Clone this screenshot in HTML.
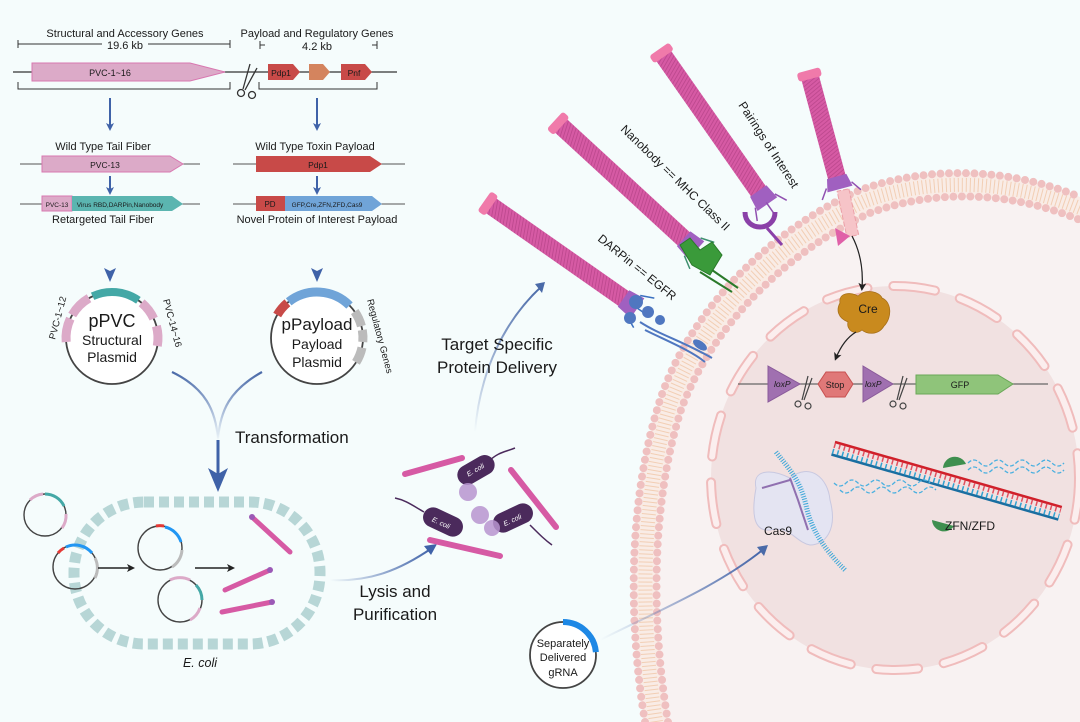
<!DOCTYPE html>
<html><head><meta charset="utf-8"><style>
html,body{margin:0;padding:0;background:#f5fcfc}
svg{display:block}
text{font-family:"Liberation Sans",sans-serif;fill:#1a1a1a}
</style></head><body>
<svg width="1080" height="722" viewBox="0 0 1080 722" xmlns="http://www.w3.org/2000/svg">
<defs>
<pattern id="stripe" width="3.5" height="18" patternUnits="userSpaceOnUse" patternTransform="skewX(25)">
<rect width="3.5" height="18" fill="#d65aa4"/><line x1="0.5" y1="0" x2="0.5" y2="18" stroke="#b8458a" stroke-width="0.8"/>
</pattern>
<linearGradient id="fadeDown" x1="0" y1="0" x2="0" y2="1"><stop offset="0" stop-color="#3f62a8" stop-opacity="0.35"/><stop offset="0.6" stop-color="#3f62a8"/></linearGradient>
<linearGradient id="fadeL" x1="0" y1="0" x2="1" y2="0"><stop offset="0" stop-color="#3f62a8" stop-opacity="0"/><stop offset="1" stop-color="#3f62a8"/></linearGradient>
<linearGradient id="fadeU" x1="0" y1="1" x2="0" y2="0"><stop offset="0" stop-color="#3f62a8" stop-opacity="0"/><stop offset="1" stop-color="#4a6aa8"/></linearGradient>
<marker id="bh" markerWidth="8" markerHeight="8" refX="5" refY="4" orient="auto" markerUnits="userSpaceOnUse"><path d="M0,0 L8,4 L0,8 L2,4z" fill="#3f62a8"/></marker>
<marker id="kh" markerWidth="8" markerHeight="8" refX="5" refY="4" orient="auto" markerUnits="userSpaceOnUse"><path d="M0,0 L8,4 L0,8 L2,4z" fill="#222"/></marker>
</defs>

<path d="M645 722 C628 620,628 500,660 400 C690 310,770 230,860 190 C930 165,1010 168,1080 197 L1080 722 Z" fill="#f9ece6"/>
<path d="M668 722 C651 620,651 505,681 410 C711 327,786 252,870 213 C935 189,1010 191,1080 220 L1080 722 Z" fill="#f8f2f2"/>
<path d="M656 722 C640 620,640 502,670 405 C700 318,778 241,865 201 C932 177,1010 180,1080 208" fill="none" stroke="#f0c7a8" stroke-width="14" stroke-dasharray="1 3" opacity="0.8"/>
<path d="M645 722 C628 620,628 500,660 400 C690 310,770 230,860 190 C930 165,1010 168,1080 197" fill="none" stroke="#efc0c0" stroke-width="8" stroke-dasharray="0 8.5" stroke-linecap="round"/>
<path d="M668 722 C651 620,651 505,681 410 C711 327,786 252,870 213 C935 189,1010 191,1080 220" fill="none" stroke="#efc0c0" stroke-width="8" stroke-dasharray="0 8.5" stroke-linecap="round"/>

<ellipse cx="895" cy="478" rx="184" ry="192" fill="#f1e1e1"/>
<ellipse cx="895" cy="478" rx="184" ry="192" fill="none" stroke="#f0bcbc" stroke-width="10" stroke-dasharray="42 26" stroke-linecap="round"/>
<ellipse cx="895" cy="478" rx="184" ry="192" fill="none" stroke="#fbeeee" stroke-width="6" stroke-dasharray="42 26" stroke-linecap="round"/>

<text x="125" y="37" font-size="11" text-anchor="middle">Structural and Accessory Genes</text>
<line x1="18" y1="44" x2="230" y2="44" stroke="#333" stroke-width="1"/>
<line x1="18" y1="40" x2="18" y2="48" stroke="#333"/><line x1="230" y1="40" x2="230" y2="48" stroke="#333"/>
<rect x="102" y="38" width="46" height="13" fill="#f5fcfc"/>
<text x="125" y="49" font-size="11" text-anchor="middle">19.6 kb</text>
<text x="317" y="37" font-size="11" text-anchor="middle">Payload and Regulatory Genes</text>
<line x1="260" y1="45" x2="265" y2="45" stroke="#333"/><line x1="260" y1="41" x2="260" y2="49" stroke="#333"/>
<line x1="372" y1="45" x2="377" y2="45" stroke="#333"/><line x1="377" y1="41" x2="377" y2="49" stroke="#333"/>
<text x="317" y="50" font-size="11" text-anchor="middle">4.2 kb</text>

<line x1="13" y1="72" x2="397" y2="72" stroke="#333" stroke-width="1.3"/>
<path d="M32 63 L190 63 L225 72 L190 81 L32 81Z" fill="#dcaac8" stroke="#d878b0"/>
<text x="110" y="76" font-size="9" text-anchor="middle">PVC-1~16</text>
<path d="M268 64 L293 64 L300 72 L293 80 L268 80Z" fill="#c84a48"/>
<text x="281" y="76" font-size="8.5" text-anchor="middle">Pdp1</text>
<path d="M309 64 L323 64 L330 72 L323 80 L309 80Z" fill="#d4845e"/>
<path d="M341 64 L365 64 L372 72 L365 80 L341 80Z" fill="#c84a48"/>
<text x="354" y="76" font-size="8.5" text-anchor="middle">Pnf</text>
<g stroke="#333" stroke-width="1.3" fill="none">
<line x1="250" y1="64" x2="243" y2="89"/><line x1="257" y1="68" x2="245" y2="90"/>
<circle cx="241" cy="93" r="3.5"/><circle cx="252" cy="95" r="3.5"/>
</g>
<path d="M18 82 L18 89 L230 89 L230 82" fill="none" stroke="#333"/>
<path d="M259 82 L259 89 L377 89 L377 82" fill="none" stroke="#333"/>

<line x1="110" y1="98" x2="110" y2="128" stroke="#3f62a8" stroke-width="2" marker-end="url(#bh)"/>
<line x1="317" y1="98" x2="317" y2="128" stroke="#3f62a8" stroke-width="2" marker-end="url(#bh)"/>

<text x="103" y="150" font-size="11" text-anchor="middle">Wild Type Tail Fiber</text>
<text x="315" y="150" font-size="11" text-anchor="middle">Wild Type Toxin Payload</text>
<line x1="20" y1="164" x2="200" y2="164" stroke="#555"/>
<path d="M42 156 L170 156 L183 164 L170 172 L42 172Z" fill="#dcaac8" stroke="#d878b0"/>
<text x="105" y="168" font-size="8.5" text-anchor="middle">PVC-13</text>
<line x1="233" y1="164" x2="405" y2="164" stroke="#555"/>
<path d="M256 156 L370 156 L382 164 L370 172 L256 172Z" fill="#c84a48"/>
<text x="318" y="168" font-size="8.5" text-anchor="middle">Pdp1</text>
<line x1="110" y1="176" x2="110" y2="192" stroke="#3f62a8" stroke-width="2" marker-end="url(#bh)"/>
<line x1="317" y1="176" x2="317" y2="192" stroke="#3f62a8" stroke-width="2" marker-end="url(#bh)"/>

<line x1="20" y1="204" x2="200" y2="204" stroke="#555"/>
<rect x="42" y="196" width="30" height="15" fill="#dcaac8" stroke="#d878b0"/>
<path d="M72 196 L172 196 L183 204 L172 211 L72 211Z" fill="#5bb5b0"/>
<text x="57" y="207" font-size="6.5" text-anchor="middle">PVC-13</text>
<text x="120" y="207" font-size="6.5" text-anchor="middle">Virus RBD,DARPin,Nanobody</text>
<line x1="233" y1="204" x2="405" y2="204" stroke="#555"/>
<rect x="256" y="196" width="29" height="15" fill="#c84a48"/>
<path d="M285 196 L372 196 L382 204 L372 211 L285 211Z" fill="#70a4d8"/>
<text x="270" y="207" font-size="8" text-anchor="middle">PD</text>
<text x="327" y="207" font-size="6.5" text-anchor="middle">GFP,Cre,ZFN,ZFD,Cas9</text>
<text x="103" y="223" font-size="11" text-anchor="middle">Retargeted Tail Fiber</text>
<text x="317" y="223" font-size="11" text-anchor="middle">Novel Protein of Interest Payload</text>

<line x1="110" y1="230" x2="110" y2="274" stroke="url(#fadeDown)" stroke-width="2.2"/>
<path d="M104 268 L110 282 L116 268 L110 271Z" fill="#3f62a8"/>
<line x1="317" y1="230" x2="317" y2="274" stroke="url(#fadeDown)" stroke-width="2.2"/>
<path d="M311 268 L317 282 L323 268 L317 271Z" fill="#3f62a8"/>

<circle cx="112" cy="338" r="46" fill="#fff" stroke="#444" stroke-width="1.8"/>
<path d="M92.6 296.3 A46 46 0 0 1 138.4 300.3" fill="none" stroke="#44a8a6" stroke-width="8"/>
<path d="M72.2 315 A46 46 0 0 1 89 298.2" fill="none" stroke="#dcaac8" stroke-width="9"/>
<path d="M66.2 342 A46 46 0 0 1 70.3 318.6" fill="none" stroke="#dcaac8" stroke-width="9"/>
<path d="M141.6 302.8 A46 46 0 0 1 153.7 318.6" fill="none" stroke="#dcaac8" stroke-width="9"/>
<path d="M156.4 326.1 A46 46 0 0 1 157.3 346" fill="none" stroke="#dcaac8" stroke-width="9"/>
<text x="112" y="327" font-size="18" text-anchor="middle">pPVC</text>
<text x="112" y="345" font-size="14" text-anchor="middle">Structural</text>
<text x="112" y="362" font-size="14" text-anchor="middle">Plasmid</text>
<text transform="translate(55,340) rotate(-75)" font-size="9.5">PVC-1~12</text>
<text transform="translate(163,300) rotate(75)" font-size="9.5">PVC-14~16</text>

<circle cx="317" cy="338" r="46" fill="#fff" stroke="#444" stroke-width="1.8"/>
<path d="M277.2 315 A46 46 0 0 1 287.4 302.8" fill="none" stroke="#c84a48" stroke-width="9"/>
<path d="M288.7 301.8 A46 46 0 0 1 349.5 305.5" fill="none" stroke="#70a4d8" stroke-width="9"/>
<path d="M354.7 311.6 A46 46 0 0 1 361.4 326.1" fill="none" stroke="#bbb" stroke-width="9"/>
<path d="M362.3 330 A46 46 0 0 1 362.8 342" fill="none" stroke="#bbb" stroke-width="9"/>
<path d="M362 347.6 A46 46 0 0 1 356 362.4" fill="none" stroke="#bbb" stroke-width="9"/>
<text x="317" y="330" font-size="17" text-anchor="middle">pPayload</text>
<text x="317" y="349" font-size="14" text-anchor="middle">Payload</text>
<text x="317" y="367" font-size="14" text-anchor="middle">Plasmid</text>
<text transform="translate(367,300) rotate(75)" font-size="9.5">Regulatory Genes</text>

<path d="M172 372 C205 388,216 410,218 440" fill="none" stroke="url(#fadeU)" stroke-width="2.2"/>
<path d="M262 372 C230 390,220 410,218 440" fill="none" stroke="url(#fadeU)" stroke-width="2.2"/>
<line x1="218" y1="440" x2="218" y2="478" stroke="#3f62a8" stroke-width="3"/>
<path d="M208 468 L218 492 L228 468 L218 474Z" fill="#3f62a8"/>
<text x="235" y="443" font-size="17">Transformation</text>

<rect x="74" y="502" width="246" height="142" rx="70" fill="none" stroke="#b7d6d6" stroke-width="11" stroke-dasharray="10 5"/>
<text x="200" y="667" font-size="12.5" font-style="italic" text-anchor="middle">E. coli</text>
<g fill="none" stroke-width="1.4">
<circle cx="45" cy="515" r="21" stroke="#444"/>
<path d="M45 494 A21 21 0 0 1 64 506" stroke="#44a8a6" stroke-width="3"/>
<path d="M30 500 A21 21 0 0 1 43 494" stroke="#dcaac8" stroke-width="3"/>
<path d="M66 514 A21 21 0 0 1 62 528" stroke="#dcaac8" stroke-width="3"/>
<circle cx="75" cy="567" r="22" stroke="#444"/>
<path d="M58 553 A22 22 0 0 1 64 548" stroke="#e53935" stroke-width="3"/>
<path d="M66 547 A22 22 0 0 1 92 553" stroke="#2196f3" stroke-width="3"/>
<path d="M95 558 A22 22 0 0 1 95 578" stroke="#bbb" stroke-width="3"/>
<circle cx="160" cy="548" r="22" stroke="#444"/>
<path d="M156 526 A22 22 0 0 1 164 526" stroke="#e53935" stroke-width="3"/>
<path d="M165 527 A22 22 0 0 1 181 542" stroke="#2196f3" stroke-width="3"/>
<path d="M182 550 A22 22 0 0 1 172 567" stroke="#bbb" stroke-width="3"/>
<circle cx="180" cy="600" r="22" stroke="#444"/>
<path d="M170 580 A22 22 0 0 1 190 580" stroke="#dcaac8" stroke-width="3"/>
<path d="M196 585 A22 22 0 0 1 202 600" stroke="#44a8a6" stroke-width="3"/>
<path d="M200 608 A22 22 0 0 1 190 620" stroke="#dcaac8" stroke-width="3"/>
</g>
<line x1="98" y1="568" x2="132" y2="568" stroke="#222" stroke-width="1.5" marker-end="url(#kh)"/>
<line x1="195" y1="568" x2="232" y2="568" stroke="#222" stroke-width="1.5" marker-end="url(#kh)"/>
<g stroke-linecap="round">
<line x1="252" y1="517" x2="290" y2="552" stroke="#d65aa4" stroke-width="5"/>
<line x1="225" y1="590" x2="270" y2="570" stroke="#d65aa4" stroke-width="5"/>
<line x1="222" y1="612" x2="272" y2="602" stroke="#d65aa4" stroke-width="5"/>
</g>
<g fill="#9b59b6"><circle cx="252" cy="517" r="3"/><circle cx="270" cy="570" r="3"/><circle cx="272" cy="602" r="3"/></g>

<path d="M330 580 C370 582,400 570,432 548" fill="none" stroke="url(#fadeL)" stroke-width="2"/>
<path d="M424 546 L437 544 L431 555Z" fill="#3f62a8"/>
<text x="395" y="597" font-size="17" text-anchor="middle">Lysis and</text>
<text x="395" y="620" font-size="17" text-anchor="middle">Purification</text>

<g stroke-linecap="round">
<line x1="405" y1="474" x2="462" y2="458" stroke="#d65aa4" stroke-width="6"/>
<line x1="511" y1="470" x2="556" y2="527" stroke="#d65aa4" stroke-width="6"/>
<line x1="430" y1="540" x2="500" y2="556" stroke="#d65aa4" stroke-width="6"/>
</g>
<g fill="#4b2a5c">
<rect x="456" y="460" width="40" height="20" rx="10" transform="rotate(-30 476 470)"/>
<rect x="422" y="512" width="42" height="20" rx="10" transform="rotate(25 443 522)"/>
<rect x="492" y="508" width="42" height="20" rx="10" transform="rotate(-25 513 518)"/>
</g>
<g fill="#b895d0" opacity="0.85"><circle cx="468" cy="492" r="9"/><circle cx="480" cy="515" r="9"/><circle cx="492" cy="528" r="8"/></g>
<g fill="none" stroke="#4b2a5c" stroke-width="1.5">
<path d="M424 512 C412 505,405 500,395 498"/><path d="M530 525 C540 535,545 540,552 545"/><path d="M488 462 C498 452,505 452,515 448"/>
</g>
<g font-size="7" font-style="italic"><text x="466" y="472" style="fill:#fff" transform="rotate(-30 476 470)">E. coli</text>
<text x="432" y="526" style="fill:#fff" transform="rotate(25 443 522)">E. coli</text>
<text x="502" y="522" style="fill:#fff" transform="rotate(-25 513 518)">E. coli</text></g>

<path d="M475 432 C480 370,505 320,542 286" fill="none" stroke="url(#fadeU)" stroke-width="2"/>
<path d="M535 284 L545 282 L542 293Z" fill="#4a6aa8"/>
<text x="497" y="350" font-size="17" text-anchor="middle">Target Specific</text>
<text x="497" y="373" font-size="17" text-anchor="middle">Protein Delivery</text>

<g transform="translate(490,205) rotate(35)">
<rect x="0" y="-9" width="165" height="18" fill="url(#stripe)"/>
<rect x="-7" y="-12" width="9" height="24" rx="3" fill="#f07aaa"/>
<path d="M163 -10 L180 -12 L180 12 L163 10Z" fill="#a060c0"/>
<g stroke="#3a70c0" stroke-width="1.5"><line x1="175" y1="-12" x2="188" y2="-18"/><line x1="178" y1="0" x2="190" y2="0"/><line x1="175" y1="12" x2="188" y2="18"/></g>
</g>
<g transform="translate(560,125) rotate(42.6)">
<rect x="0" y="-9" width="170" height="18" fill="url(#stripe)"/>
<rect x="-7" y="-12" width="9" height="24" rx="3" fill="#f07aaa"/>
<path d="M168 -10 L185 -12 L185 12 L168 10Z" fill="#a060c0"/>
<g stroke="#3f9070" stroke-width="1.5"><line x1="180" y1="-12" x2="193" y2="-18"/><line x1="183" y1="0" x2="195" y2="0"/><line x1="180" y1="12" x2="193" y2="18"/></g>
</g>
<g transform="translate(663,55) rotate(55)">
<rect x="0" y="-9" width="168" height="18" fill="url(#stripe)"/>
<rect x="-7" y="-12" width="9" height="24" rx="3" fill="#f07aaa"/>
<path d="M166 -10 L182 -12 L182 12 L166 10Z" fill="#a060c0"/>
<g stroke="#9050b0" stroke-width="1.5"><line x1="178" y1="-12" x2="190" y2="-18"/><line x1="180" y1="0" x2="192" y2="0"/><line x1="178" y1="12" x2="190" y2="18"/></g>
</g>
<g transform="translate(810,77) rotate(75)">
<rect x="0" y="-9" width="105" height="18" fill="url(#stripe)"/>
<rect x="-7" y="-12" width="9" height="24" rx="3" fill="#f07aaa"/>
<path d="M103 -10 L116 -13 L116 13 L103 10Z" fill="#a060c0"/>
<g stroke="#9050b0" stroke-width="1.5"><line x1="112" y1="-13" x2="122" y2="-20"/><line x1="112" y1="13" x2="122" y2="20"/></g>
</g>
<g transform="translate(843,190) rotate(78)"><rect x="0" y="-6" width="47" height="12" fill="#f6c4c8" stroke="#eba0a8" stroke-dasharray="5 2"/></g>
<path d="M835 228 L850 236 L838 246Z" fill="#e060a8"/>
<path d="M852 236 C862 255,863 275,862 288" fill="none" stroke="#222" stroke-width="1.3" marker-end="url(#kh)"/>

<path d="M745 212 C745 232,775 232,775 212" fill="none" stroke="#8a40a8" stroke-width="5"/>
<line x1="767" y1="228" x2="782" y2="245" stroke="#8a40a8" stroke-width="3"/>
<path d="M680 245 L690 238 L700 250 L712 242 L722 255 L710 275 L692 265Z" fill="#3a9a3a" stroke="#2a7a2a"/>
<line x1="712" y1="270" x2="738" y2="288" stroke="#2a7a2a" stroke-width="2"/><line x1="700" y1="272" x2="732" y2="292" stroke="#2a7a2a" stroke-width="2"/>
<g fill="#4f77c0"><circle cx="636" cy="302" r="7"/><circle cx="630" cy="318" r="6"/><circle cx="648" cy="312" r="6"/><circle cx="660" cy="320" r="5"/><ellipse cx="700" cy="345" rx="8" ry="4" transform="rotate(35 700 345)"/></g>
<path d="M640 322 C660 335,680 340,712 358 M645 330 C665 340,690 350,705 362" fill="none" stroke="#4f77c0" stroke-width="2"/>

<text transform="translate(738,105) rotate(57)" font-size="12">Pairings of Interest</text>
<text transform="translate(620,130) rotate(44)" font-size="12">Nanobody == MHC Class II</text>
<text transform="translate(597,240) rotate(39)" font-size="12">DARPin == EGFR</text>

<path d="M840 303 C838 292,852 292,858 296 C866 288,880 292,882 298 C892 302,892 318,884 326 C878 336,866 334,862 330 C855 336,846 330,848 322 C838 318,836 310,840 303Z" fill="#c98a1e" stroke="#a8701a" stroke-width="0.8"/>
<text x="868" y="313" font-size="12" text-anchor="middle">Cre</text>
<path d="M856 332 C846 338,840 348,836 358" fill="none" stroke="#222" stroke-width="1.3" marker-end="url(#kh)"/>

<line x1="738" y1="384" x2="1048" y2="384" stroke="#666" stroke-width="1.2"/>
<path d="M768 366 L800 384 L768 402Z" fill="#a070b0" stroke="#8a5a9a"/>
<text x="774" y="387" font-size="8.5" font-style="italic">loxP</text>
<path d="M826 372 L845 372 L853 384 L845 397 L826 397 L818 384Z" fill="#e07878" stroke="#c85050"/>
<text x="835" y="388" font-size="9" text-anchor="middle">Stop</text>
<path d="M863 366 L893 384 L863 402Z" fill="#a070b0" stroke="#8a5a9a"/>
<text x="865" y="387" font-size="8.5" font-style="italic">loxP</text>
<path d="M916 375 L998 375 L1013 384 L998 394 L916 394Z" fill="#8fc47a" stroke="#6aa858"/>
<text x="960" y="388" font-size="9" text-anchor="middle">GFP</text>
<g stroke="#444" stroke-width="1.2" fill="none">
<line x1="808" y1="376" x2="802" y2="400"/><line x1="812" y1="378" x2="804" y2="400"/><circle cx="798" cy="404" r="3"/><circle cx="808" cy="406" r="3"/>
<line x1="903" y1="376" x2="897" y2="400"/><line x1="907" y1="378" x2="899" y2="400"/><circle cx="893" cy="404" r="3"/><circle cx="903" cy="406" r="3"/>
</g>

<g transform="translate(835,442) rotate(16)">
<line x1="0" y1="0" x2="236" y2="0" stroke="#d0202a" stroke-width="2.5"/>
<line x1="0" y1="13" x2="236" y2="13" stroke="#1a6ea0" stroke-width="2.5"/>
<line x1="0" y1="3.5" x2="236" y2="3.5" stroke="#e05060" stroke-width="5" stroke-dasharray="1.5 3.5"/>
<line x1="0" y1="9.5" x2="236" y2="9.5" stroke="#30a0d0" stroke-width="5" stroke-dasharray="1.5 3.5"/>
</g>
<path d="M943 468 A12 12 0 0 1 966 464 Z" fill="#3f8f4f"/>
<path d="M932 520 A12 12 0 0 0 954 526 Z" fill="#3f8f4f"/>
<g fill="none" stroke="#4ab0e0" stroke-width="1.3" stroke-dasharray="4 2">
<path d="M968 463 q6 -6 12 0 t12 0 t12 0 t12 0 t12 0 t12 0 t12 0 t12 0" />
<path d="M968 470 q6 -6 12 0 t12 0 t12 0 t12 0 t12 0 t12 0 t12 0 t12 0" />
<path d="M834 483 q6 6 12 0 t12 0 t12 0 t12 0 t12 0 t12 0 t12 0 t12 0" />
<path d="M840 490 q6 6 12 0 t12 0 t12 0 t12 0 t12 0 t12 0 t12 0 t12 0" />
</g>
<text x="970" y="530" font-size="12" text-anchor="middle">ZFN/ZFD</text>

<path d="M756 488 C752 470,770 468,790 478 C810 462,828 478,830 500 C838 530,825 545,810 545 C795 542,790 525,770 530 C752 532,752 510,756 488Z" fill="#e4e4f2" stroke="#c8c8e0"/>
<path d="M776 452 C790 470,800 480,806 505 C810 525,820 545,845 570" fill="none" stroke="#40a8d8" stroke-width="5" stroke-dasharray="1 1.5"/>
<path d="M762 488 L790 480 M790 478 L798 500 L808 530" fill="none" stroke="#9070b0" stroke-width="2"/>
<text x="778" y="535" font-size="12" text-anchor="middle">Cas9</text>

<path d="M600 640 C660 610,720 585,765 548" fill="none" stroke="url(#fadeL)" stroke-width="2"/>
<path d="M757 547 L768 545 L764 556Z" fill="#4a6aa8"/>
<circle cx="563" cy="655" r="33" fill="#fff" stroke="#444" stroke-width="1.8"/>
<path d="M563 622 A33 33 0 0 1 595.9 652.1" fill="none" stroke="#1e88e5" stroke-width="6"/>
<text x="563" y="647" font-size="11" text-anchor="middle">Separately</text>
<text x="563" y="661" font-size="11" text-anchor="middle">Delivered</text>
<text x="563" y="676" font-size="11" text-anchor="middle">gRNA</text>
</svg>
</body></html>
